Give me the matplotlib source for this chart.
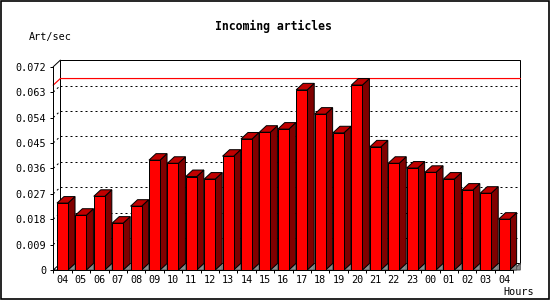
"""
Incoming articles per hour, drawn as a JpGraph-style 3D bar chart.
"""

import matplotlib

matplotlib.use("Agg")
import matplotlib.pyplot as plt
from matplotlib.patches import Polygon, Rectangle

HOURS = ["04", "05", "06", "07", "08", "09", "10", "11", "12", "13", "14", "15",
         "16", "17", "18", "19", "20", "21", "22", "23", "00", "01", "02", "03", "04"]
ART_PER_SEC = [0.0237, 0.0194, 0.0261, 0.0166, 0.0226, 0.0389, 0.0378, 0.0331,
               0.0322, 0.0403, 0.0464, 0.0488, 0.0499, 0.0638, 0.0552, 0.0486,
               0.0655, 0.0436, 0.0378, 0.0361, 0.0346, 0.0322, 0.0283, 0.0272,
               0.0180]
Y_TICKS = [0, 0.009, 0.018, 0.027, 0.036, 0.045, 0.054, 0.063, 0.072]
Y_TICK_LABELS = ["0", "0.009", "0.018", "0.027", "0.036", "0.045", "0.054",
                 "0.063", "0.072"]

TITLE = "Incoming articles"
Y_UNIT = "Art/sec"
X_UNIT = "Hours"

W_PX, H_PX = 550, 300
DEPTH_X_PX = 7.0
DEPTH_Y_PX = 6.5
BAR_WIDTH = 0.6
LW = 0.72  # one pixel at 100 dpi

FRONT = "#ff0000"
TOP = "#c00000"
SIDE = "#800000"
FLOOR_SHADE = "#8c8c8c"
MONO = "DejaVu Sans Mono"

fig = plt.figure(figsize=(W_PX / 100, H_PX / 100), dpi=100)
fig.patch.set_facecolor("white")

# front plane of the plot: x axis at y=270 px, 0.072 at y=67 px
ax = fig.add_axes([53.3 / W_PX, 30 / H_PX, 460 / W_PX, 203.3 / H_PX])
ax.set_xlim(-0.5, len(HOURS) - 0.5)
ax.set_ylim(Y_TICKS[0], Y_TICKS[-1])
ax.patch.set_visible(False)

# depth offset expressed in data units
slot_px = 460 / len(HOURS)
dx = DEPTH_X_PX / slot_px
dy = DEPTH_Y_PX * (Y_TICKS[-1] - Y_TICKS[0]) / 203.3
x0, x1 = ax.get_xlim()
y_top = Y_TICKS[-1]

# back wall
ax.add_patch(Rectangle((x0 + dx, dy), x1 - x0, y_top, facecolor="white",
                       edgecolor="black", lw=LW, zorder=1, clip_on=False))

# dotted grid on the back wall, with its diagonal link to the front axis
for v in Y_TICKS[1:-1]:
    ax.plot([x0 + dx, x1 + dx], [v + dy, v + dy], color="black", lw=LW,
            ls=(0, (2, 3)), zorder=2, clip_on=False)
    ax.plot([x0, x0 + dx], [v, v + dy], color="black", lw=LW,
            ls=(0, (2, 3)), zorder=2, clip_on=False)
ax.plot([x0, x0 + dx], [y_top, y_top + dy], color="black", lw=LW, zorder=2,
        clip_on=False)

# max line
vmax = max(ART_PER_SEC)
ax.plot([x0, x0 + dx, x1 + dx], [vmax, vmax + dy, vmax + dy], color="red",
        lw=LW * 1.2, zorder=3, clip_on=False)

# floor
ax.add_patch(Polygon([(x0, 0), (x1, 0), (x1 + dx, dy), (x0 + dx, dy)],
                     closed=True, facecolor="white", edgecolor="black",
                     lw=LW, zorder=3, clip_on=False))
ax.add_patch(Polygon([(x1, 0), (x1 + dx, dy), (x1 + dx, 0)], closed=True,
                     facecolor=FLOOR_SHADE, edgecolor="#555555", lw=LW,
                     zorder=3.5, clip_on=False))

# bars
for i, v in enumerate(ART_PER_SEC):
    xl = i - BAR_WIDTH / 2
    xr = i + BAR_WIDTH / 2
    ax.add_patch(Polygon([(xr, 0), (xr + dx, dy), (xr + dx, 0)], closed=True,
                         facecolor=FLOOR_SHADE, edgecolor="#555555", lw=LW,
                         zorder=4, clip_on=False))
    ax.add_patch(Polygon([(xr, 0), (xr + dx, dy), (xr + dx, v + dy), (xr, v)],
                         closed=True, facecolor=SIDE, edgecolor="black",
                         lw=LW, zorder=5, clip_on=False))
    ax.add_patch(Polygon([(xl, v), (xl + dx, v + dy), (xr + dx, v + dy), (xr, v)],
                         closed=True, facecolor=TOP, edgecolor="black",
                         lw=LW, zorder=5, clip_on=False))
ax.bar(range(len(HOURS)), ART_PER_SEC, width=BAR_WIDTH, color=FRONT,
       edgecolor="black", lw=LW, zorder=6)

# front axes
for side in ("top", "right"):
    ax.spines[side].set_visible(False)
for side in ("left", "bottom"):
    ax.spines[side].set_linewidth(LW)
    ax.spines[side].set_zorder(7)

ax.set_yticks(Y_TICKS)
ax.set_yticklabels(Y_TICK_LABELS)
ax.tick_params(axis="y", direction="out", length=2.4, width=LW, pad=2.5,
               labelsize=7.3)
ax.set_xticks(range(len(HOURS)))
ax.set_xticklabels(HOURS)
ax.set_xticks([i - 0.5 for i in range(len(HOURS) + 1)], minor=True)
ax.tick_params(axis="x", which="major", length=0, pad=3.5, labelsize=7.3)
ax.tick_params(axis="x", which="minor", direction="out", length=2.4, width=LW)
for lab in ax.get_xticklabels() + ax.get_yticklabels():
    lab.set_fontfamily(MONO)

fig.text(273.5 / W_PX, 1 - 26.7 / H_PX, TITLE, ha="center", va="center",
         fontfamily=MONO, fontweight="bold", fontsize=8.3)
fig.text(29 / W_PX, 1 - 36.7 / H_PX, Y_UNIT, ha="left", va="center",
         fontfamily=MONO, fontsize=7.3)
fig.text(534 / W_PX, 1 - 292.3 / H_PX, X_UNIT, ha="right", va="center",
         fontfamily=MONO, fontsize=7.3)

# image border
fig.add_artist(Rectangle((0.001, 0.002), 0.997, 0.996, transform=fig.transFigure,
                         fill=False, edgecolor="black", lw=1.2))

fig.savefig("out.png", dpi=100)
plt.close(fig)
